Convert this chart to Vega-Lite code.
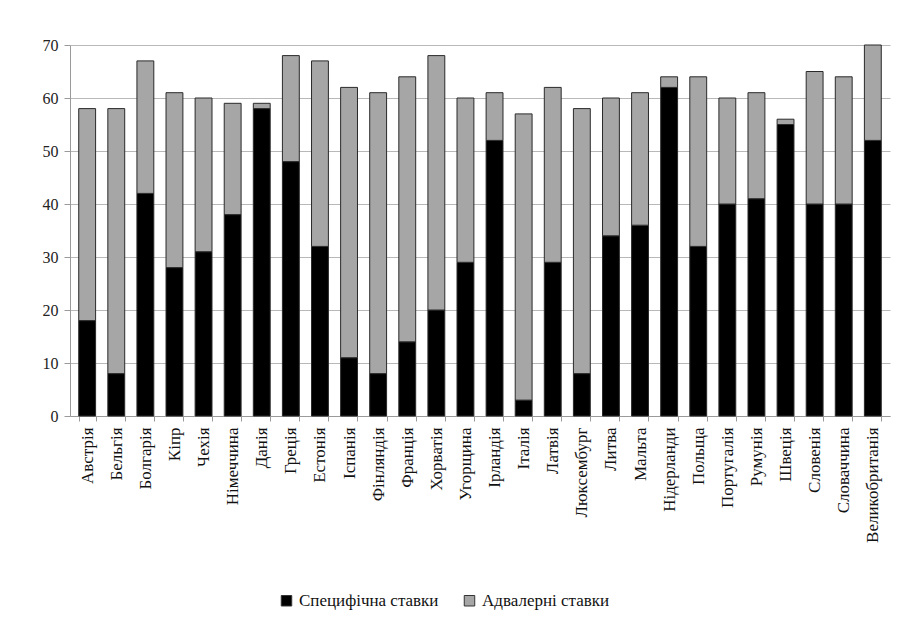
{
  "$schema": "https://vega.github.io/schema/vega-lite/v6.json",
  "width": 820,
  "height": 371,
  "autosize": "none",
  "padding": {"left": 70, "top": 45, "right": 25, "bottom": 202},
  "background": "white",
  "config": {
    "view": {"stroke": null},
    "font": "'Times New Roman', Times, 'Liberation Serif', 'DejaVu Serif', serif"
  },
  "datasets": {
    "rows": [
      {"c": "Австрія", "s": 18, "t": 58},
      {"c": "Бельгія", "s": 8, "t": 58},
      {"c": "Болгарія", "s": 42, "t": 67},
      {"c": "Кіпр", "s": 28, "t": 61},
      {"c": "Чехія", "s": 31, "t": 60},
      {"c": "Німеччина", "s": 38, "t": 59},
      {"c": "Данія", "s": 58, "t": 59},
      {"c": "Греція", "s": 48, "t": 68},
      {"c": "Естонія", "s": 32, "t": 67},
      {"c": "Іспанія", "s": 11, "t": 62},
      {"c": "Фінляндія", "s": 8, "t": 61},
      {"c": "Франція", "s": 14, "t": 64},
      {"c": "Хорватія", "s": 20, "t": 68},
      {"c": "Угорщина", "s": 29, "t": 60},
      {"c": "Ірландія", "s": 52, "t": 61},
      {"c": "Італія", "s": 3, "t": 57},
      {"c": "Латвія", "s": 29, "t": 62},
      {"c": "Люксембург", "s": 8, "t": 58},
      {"c": "Литва", "s": 34, "t": 60},
      {"c": "Мальта", "s": 36, "t": 61},
      {"c": "Нідерланди", "s": 62, "t": 64},
      {"c": "Польща", "s": 32, "t": 64},
      {"c": "Португалія", "s": 40, "t": 60},
      {"c": "Румунія", "s": 41, "t": 61},
      {"c": "Швеція", "s": 55, "t": 56},
      {"c": "Словенія", "s": 40, "t": 65},
      {"c": "Словаччина", "s": 40, "t": 64},
      {"c": "Великобританія", "s": 52, "t": 70}
    ]
  },
  "data": {"name": "rows"},
  "transform": [
    {"fold": ["s", "a"], "as": ["k", "v0"]},
    {"calculate": "datum.k === 's' ? datum.s : datum.t - datum.s", "as": "value"},
    {"calculate": "datum.k === 's' ? 'Специфічна ставки' : 'Адвалерні ставки'", "as": "type"},
    {"calculate": "datum.k === 's' ? 0 : 1", "as": "ord"}
  ],
  "mark": {"type": "bar", "stroke": "#2a2a2a", "strokeWidth": 1},
  "encoding": {
    "x": {
      "field": "c",
      "type": "nominal",
      "sort": null,
      "title": null,
      "scale": {"paddingInner": 0.42, "paddingOuter": 0.3},
      "axis": {
        "labelAngle": -90,
        "labelFontSize": 17,
        "labelColor": "#111",
        "labelPadding": 6,
        "domainColor": "#9a9a9a",
        "tickColor": "#9a9a9a",
        "tickBand": "extent",
        "tickSize": 5
      }
    },
    "y": {
      "field": "value",
      "type": "quantitative",
      "stack": "zero",
      "title": null,
      "scale": {"domain": [0, 70]},
      "axis": {
        "values": [0, 10, 20, 30, 40, 50, 60, 70],
        "labelFontSize": 16,
        "labelColor": "#222",
        "labelPadding": 6,
        "domainColor": "#9a9a9a",
        "tickColor": "#9a9a9a",
        "tickSize": 6,
        "gridColor": "#b8b8b8",
        "gridWidth": 1.2
      }
    },
    "color": {
      "field": "type",
      "type": "nominal",
      "scale": {"domain": ["Специфічна ставки", "Адвалерні ставки"], "range": ["#000000", "#a6a6a6"]},
      "legend": {
        "title": null,
        "orient": "none",
        "direction": "horizontal",
        "legendX": 208,
        "legendY": 547,
        "symbolType": "square",
        "symbolSize": 110,
        "symbolStrokeColor": "#333",
        "symbolStrokeWidth": 1,
        "labelFontSize": 17,
        "labelColor": "#111",
        "columnPadding": 22
      }
    },
    "order": {"field": "ord", "type": "quantitative"}
  }
}
